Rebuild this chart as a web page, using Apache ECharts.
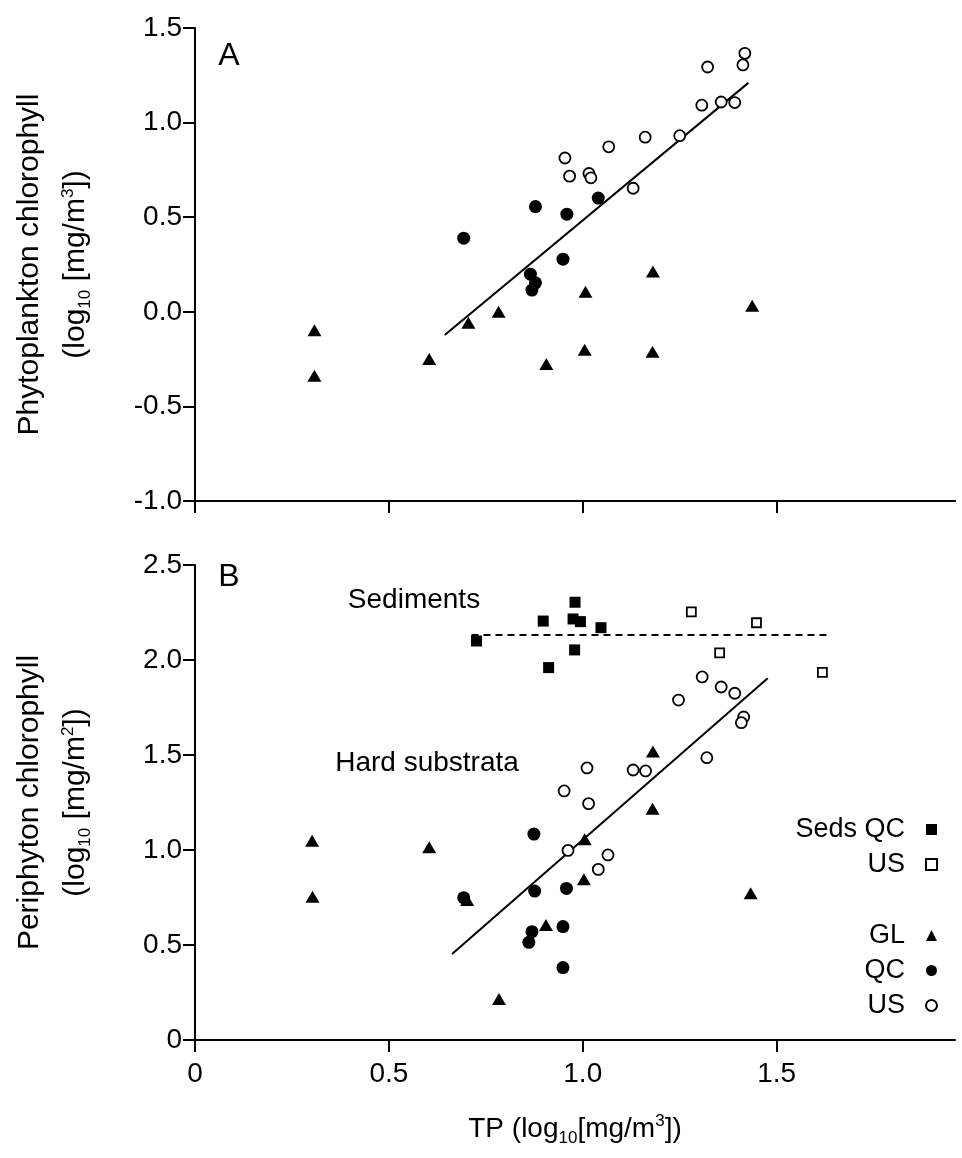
<!DOCTYPE html>
<html>
<head>
<meta charset="utf-8">
<script src="https://cdn.jsdelivr.net/npm/echarts@6.0.0/dist/echarts.min.js"></script>
<style>
  html, body { margin: 0; padding: 0; background: #fff; }
  #chart { width: 962px; height: 1158px; }
</style>
</head>
<body>
<div id="chart"></div>
<script>
var dom = document.getElementById("chart");
var myChart = echarts.init(dom);
var option = null;

var FONT = '"Liberation Sans", Arial, sans-serif';

// x ticks shared by both panels
var xTicks = [0, 0.5, 1.0, 1.5];

// panel A : phytoplankton chlorophyll vs TP
var aUS = [[1.418,1.366],[1.413,1.305],[1.322,1.294],[1.307,1.092],[1.357,1.109],[1.392,1.106],[1.25,0.931],
           [1.161,0.923],[1.067,0.872],[0.954,0.813],[0.966,0.717],[1.016,0.731],[1.021,0.708],[1.130,0.653]];
var aQC = [[0.878,0.556],[0.959,0.516],[1.040,0.601],[0.693,0.389],[0.949,0.278],[0.865,0.199],[0.878,0.153],[0.869,0.115]];
var aGL = [[1.181,0.213],[1.007,0.106],[1.437,0.032],[0.783,0.0],[0.308,-0.097],[0.308,-0.338],[0.604,-0.25],
           [0.705,-0.058],[1.005,-0.2],[1.180,-0.211],[0.906,-0.276]];
var aFit = [[0.644,-0.123],[1.427,1.21]];

// panel B : periphyton chlorophyll vs TP
var bSedQC = [[0.980,2.304],[0.898,2.205],[0.975,2.216],[0.994,2.202],[1.047,2.170],[0.726,2.1],[0.979,2.053],[0.912,1.96]];
var bSedUS = [[1.280,2.253],[1.448,2.196],[1.353,2.038],[1.618,1.935]];
var bUS = [[1.308,1.911],[1.357,1.858],[1.392,1.825],[1.247,1.789],[1.415,1.7],[1.409,1.67],[1.320,1.486],[1.130,1.421],
           [1.162,1.416],[1.011,1.432],[0.952,1.311],[1.015,1.244],[0.962,0.998],[1.065,0.974],[1.040,0.898]];
var bGL = [[1.181,1.519],[1.180,1.217],[1.005,1.056],[1.003,0.846],[1.433,0.772],[0.604,1.014],[0.302,1.049],
           [0.303,0.754],[0.702,0.737],[0.905,0.605],[0.784,0.216]];
var bQC = [[0.874,1.084],[0.693,0.749],[0.876,0.784],[0.958,0.798],[0.869,0.570],[0.861,0.514],[0.949,0.597],[0.949,0.381]];
var bFit = [[0.663,0.453],[1.477,1.904]];
var bSedMean = [[0.713,2.132],[1.633,2.132]];

var sty = {
    filledCircle: { symbol: 'circle', symbolSize: 13, itemStyle: { color: '#000', opacity: 1 } },
    openCircle: { symbol: 'circle', symbolSize: 11, itemStyle: { color: '#fff', borderColor: '#000', borderWidth: 1.8, opacity: 1 } },
    triangle: { symbol: 'triangle', symbolSize: [14, 12], itemStyle: { color: '#000', opacity: 1 } },
    filledSquare: { symbol: 'rect', symbolSize: 11, itemStyle: { color: '#000', opacity: 1 } },
    openSquare: { symbol: 'rect', symbolSize: 9, itemStyle: { color: '#fff', borderColor: '#000', borderWidth: 1.8, opacity: 1 } }
};

function scatter(name, data, idx, s) {
    return {
        name: name, type: 'scatter', data: data,
        xAxisIndex: idx, yAxisIndex: idx,
        symbol: s.symbol, symbolSize: s.symbolSize,
        itemStyle: s.itemStyle, z: 3
    };
}
function line(data, idx, dashed) {
    return {
        type: 'line', data: data, xAxisIndex: idx, yAxisIndex: idx,
        symbol: 'none', silent: true, z: 2,
        lineStyle: { color: '#000', width: 2, opacity: 1, type: dashed ? [7, 5] : 'solid' }
    };
}

var axisCommon = {
    type: 'value',
    axisLine: { show: true, onZero: false, lineStyle: { color: '#000', width: 2 } },
    axisTick: { show: true, inside: false, length: 12, lineStyle: { color: '#000', width: 2 } },
    splitLine: { show: false },
    axisLabel: { color: '#000', fontSize: 28, fontFamily: FONT }
};

var legendCommon = {
    orient: 'vertical', right: 19, align: 'right',
    itemWidth: 11, itemHeight: 11, itemGap: 8,
    selectedMode: false,
    formatter: function (n) { return n === 'Seds US' ? 'US' : n; },
    textStyle: { color: '#000', fontSize: 27, fontFamily: FONT, padding: [0, 16, 0, 0] }
};

// sub/superscripts are shifted with padding around a middle-aligned token
function nameStyle(size, lh) {
    return {
        color: '#000', fontSize: size, fontFamily: FONT, lineHeight: lh,
        rich: {
            n: { fontSize: size, lineHeight: lh, fontFamily: FONT, color: '#000' },
            s: { fontSize: 17, padding: [18, 0, 0, 0], fontFamily: FONT, color: '#000' },
            p: { fontSize: 17, padding: [0, 0, 16, 0], fontFamily: FONT, color: '#000' }
        }
    };
}

option = {
    backgroundColor: '#fff',
    animation: false,
    textStyle: { fontFamily: FONT },
    grid: [
        { left: 195, top: 28, width: 760, height: 473, outerBoundsMode: 'none' },
        { left: 195, top: 565, width: 760, height: 475, outerBoundsMode: 'none' }
    ],
    xAxis: [
        echarts.util.merge({
            gridIndex: 0, min: 0, max: 1.96,
            axisTick: { customValues: xTicks },
            axisLabel: { show: false }
        }, axisCommon),
        echarts.util.merge({
            gridIndex: 1, min: 0, max: 1.96,
            axisTick: { customValues: xTicks },
            axisLabel: {
                customValues: xTicks, margin: 20,
                formatter: function (v) { return v === 0 ? '0' : v.toFixed(1); }
            },
            name: 'TP ({n|log}{s|10}{n|[mg/m}{p|3}{n|])}',
            nameLocation: 'middle', nameGap: 70,
            nameTextStyle: nameStyle(28, 38)
        }, axisCommon)
    ],
    yAxis: [
        echarts.util.merge({
            gridIndex: 0, min: -1, max: 1.5, interval: 0.5,
            axisLabel: { margin: 13, formatter: function (v) { return v.toFixed(1); } },
            name: 'Phytoplankton chlorophyll\n({n|log}{s|10} {n|[mg/m}{p|3}{n|])}',
            nameLocation: 'middle', nameRotate: 90, nameGap: 96,
            nameTextStyle: nameStyle(30, 46)
        }, axisCommon),
        echarts.util.merge({
            gridIndex: 1, min: 0, max: 2.5, interval: 0.5,
            axisLabel: { margin: 13, formatter: function (v) { return v === 0 ? '0' : v.toFixed(1); } },
            name: 'Periphyton chlorophyll\n({n|log}{s|10} {n|[mg/m}{p|2}{n|])}',
            nameLocation: 'middle', nameRotate: 90, nameGap: 96,
            nameTextStyle: nameStyle(30, 46)
        }, axisCommon)
    ],
    legend: [
        echarts.util.merge({ data: ['Seds QC', 'Seds US'], top: 811 }, legendCommon),
        echarts.util.merge({ data: ['GL', 'QC', 'US'], top: 917 }, legendCommon)
    ],
    graphic: [
        { type: 'text', x: 229, y: 56, style: { text: 'A', fontSize: 32, fontFamily: FONT, fill: '#000', align: 'center', verticalAlign: 'middle' } },
        { type: 'text', x: 229, y: 577, style: { text: 'B', fontSize: 32, fontFamily: FONT, fill: '#000', align: 'center', verticalAlign: 'middle' } },
        { type: 'text', x: 414, y: 600, style: { text: 'Sediments', fontSize: 28, fontFamily: FONT, fill: '#000', align: 'center', verticalAlign: 'middle' } },
        { type: 'text', x: 427, y: 763, style: { text: 'Hard substrata', fontSize: 28, fontFamily: FONT, fill: '#000', align: 'center', verticalAlign: 'middle' } }
    ],
    series: [
        line(aFit, 0, false),
        scatter('GL', aGL, 0, sty.triangle),
        scatter('QC', aQC, 0, sty.filledCircle),
        scatter('US', aUS, 0, sty.openCircle),
        line(bFit, 1, false),
        line(bSedMean, 1, true),
        scatter('Seds QC', bSedQC, 1, sty.filledSquare),
        scatter('Seds US', bSedUS, 1, sty.openSquare),
        scatter('GL', bGL, 1, sty.triangle),
        scatter('QC', bQC, 1, sty.filledCircle),
        scatter('US', bUS, 1, sty.openCircle)
    ]
};

if (option && typeof option === "object") {
    myChart.setOption(option, true);
}
</script>
</body>
</html>
